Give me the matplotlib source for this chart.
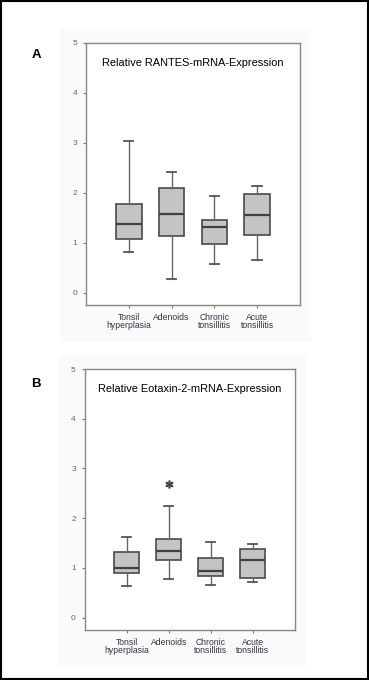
import matplotlib.pyplot as plt
from matplotlib.patches import Rectangle

# Kategorien
groups = ['Tonsil\nhyperplasia', 'Adenoids', 'Chronic\ntonsillitis', 'Acute\ntonsillitis']

# A: RANTES (whisker low, Q1, median, Q3, whisker high)
rantes_low = [0.82, 0.27, 0.57, 0.66]
rantes_q1 = [1.07, 1.14, 0.98, 1.15]
rantes_med = [1.37, 1.58, 1.32, 1.56]
rantes_q3 = [1.78, 2.09, 1.45, 1.97]
rantes_high = [3.03, 2.41, 1.93, 2.13]
rantes_out = [[], [], [], []]

# B: Eotaxin-2
eot_low = [0.63, 0.77, 0.66, 0.71]
eot_q1 = [0.89, 1.15, 0.83, 0.79]
eot_med = [1.00, 1.34, 0.93, 1.15]
eot_q3 = [1.31, 1.58, 1.19, 1.38]
eot_high = [1.62, 2.25, 1.53, 1.48]
eot_out = [[], [2.69], [], []]

y_ticks = [0, 1, 2, 3, 4, 5]

plt.rcParams['font.family'] = ['Liberation Sans', 'DejaVu Sans']

fig = plt.figure(figsize=(3.69, 6.8), dpi=100)

# Rahmen um das ganze Bild
fig.patches.append(Rectangle((0.002, 0.002), 0.996, 0.996, transform=fig.transFigure,
                             fill=False, edgecolor='black', linewidth=1.5, zorder=5))


def panel(rect, letter, title, low, q1, med, q3, high, outl, letter_y):
    # leichter grauer Hintergrund
    fig.patches.append(Rectangle((rect[0] - 0.07, rect[1] - 0.055), rect[2] + 0.10, rect[3] + 0.075,
                                 transform=fig.transFigure, facecolor='#fafafa', edgecolor='none', zorder=-1))
    ax = fig.add_axes(rect)
    ax.set_zorder(2)
    ax.set_facecolor('white')
    stats = []
    for i in range(len(groups)):
        stats.append({'whislo': low[i], 'q1': q1[i], 'med': med[i], 'q3': q3[i],
                      'whishi': high[i], 'fliers': []})
    ax.bxp(stats, positions=[1, 2, 3, 4], widths=0.6, patch_artist=True,
           showfliers=False, capwidths=0.22,
           boxprops=dict(facecolor='#c4c4c4', edgecolor='#4a4a4a', linewidth=1.2),
           medianprops=dict(color='#404040', linewidth=1.6),
           whiskerprops=dict(color='#666666', linewidth=1.0),
           capprops=dict(color='#555555', linewidth=1.3))
    for i, vals in enumerate(outl):
        for v in vals:
            ax.plot(i + 1, v, marker='$*$', color='#444444', markersize=5, linestyle='none')
    ax.set_xlim(0, 5)
    ax.set_ylim(-0.25, 5.0)
    ax.set_yticks(y_ticks)
    ax.set_yticklabels([str(t) for t in y_ticks])
    ax.set_xticks([1, 2, 3, 4])
    ax.set_xticklabels(groups, linespacing=0.9)
    ax.tick_params(axis='y', length=2.5, width=0.8, color='#777777', labelsize=6,
                   labelcolor='#666666', pad=4)
    ax.tick_params(axis='x', length=2.5, width=0.8, color='#777777', labelsize=6.2,
                   labelcolor='#333344', pad=3)
    for lab in ax.get_xticklabels() + ax.get_yticklabels():
        lab.set_fontfamily(['Liberation Sans Narrow', 'Liberation Sans', 'DejaVu Sans'])
    for s in ax.spines.values():
        s.set_color('#888888')
        s.set_linewidth(1.0)
    ax.text(0.5, 0.925, title, transform=ax.transAxes, ha='center', va='center',
            fontsize=7.9, color='black')
    fig.text(0.085, letter_y, letter, fontsize=9.5, fontweight='bold', ha='left', va='center')
    return ax


panel([0.233, 0.5515, 0.580, 0.3853], 'A', 'Relative RANTES-mRNA-Expression',
      rantes_low, rantes_q1, rantes_med, rantes_q3, rantes_high, rantes_out, 0.919)
panel([0.230, 0.0735, 0.569, 0.3838], 'B', 'Relative Eotaxin-2-mRNA-Expression',
      eot_low, eot_q1, eot_med, eot_q3, eot_high, eot_out, 0.435)

fig.savefig('out.png', dpi=100)
